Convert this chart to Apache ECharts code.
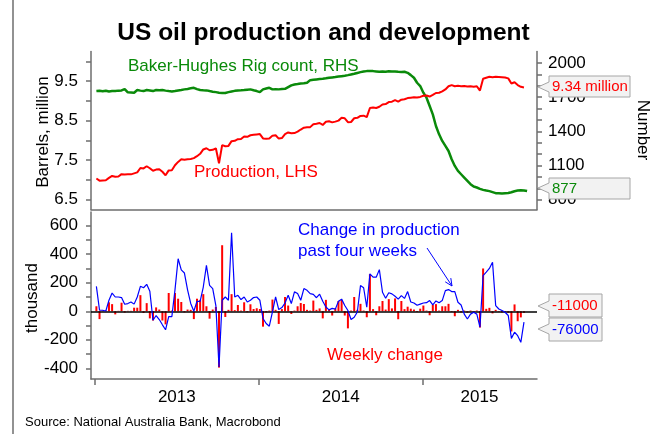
<!DOCTYPE html>
<html><head><meta charset="utf-8">
<script src="https://cdn.jsdelivr.net/npm/echarts@6/dist/echarts.min.js"></script>
<style>html,body{margin:0;padding:0;background:#fff}#c{width:652px;height:434px}</style>
</head><body><div id="c"></div>
<script>
const weeks = ['2013-01-04','2013-01-11','2013-01-18','2013-01-25','2013-02-01','2013-02-08','2013-02-15','2013-02-22','2013-03-01','2013-03-08','2013-03-15','2013-03-22','2013-03-29','2013-04-05','2013-04-12','2013-04-19','2013-04-26','2013-05-03','2013-05-10','2013-05-17','2013-05-24','2013-05-31','2013-06-07','2013-06-14','2013-06-21','2013-06-28','2013-07-05','2013-07-12','2013-07-19','2013-07-26','2013-08-02','2013-08-09','2013-08-16','2013-08-23','2013-08-30','2013-09-06','2013-09-13','2013-09-20','2013-09-27','2013-10-04','2013-10-11','2013-10-18','2013-10-25','2013-11-01','2013-11-08','2013-11-15','2013-11-22','2013-11-29','2013-12-06','2013-12-13','2013-12-20','2013-12-27',
'2014-01-03','2014-01-10','2014-01-17','2014-01-24','2014-01-31','2014-02-07','2014-02-14','2014-02-21','2014-02-28','2014-03-07','2014-03-14','2014-03-21','2014-03-28','2014-04-04','2014-04-11','2014-04-18','2014-04-25','2014-05-02','2014-05-09','2014-05-16','2014-05-23','2014-05-30','2014-06-06','2014-06-13','2014-06-20','2014-06-27','2014-07-04','2014-07-11','2014-07-18','2014-07-25','2014-08-01','2014-08-08','2014-08-15','2014-08-22','2014-08-29','2014-09-05','2014-09-12','2014-09-19','2014-09-26','2014-10-03','2014-10-10','2014-10-17','2014-10-24','2014-10-31','2014-11-07','2014-11-14','2014-11-21','2014-11-28','2014-12-05','2014-12-12','2014-12-19','2014-12-26',
'2015-01-02','2015-01-09','2015-01-16','2015-01-23','2015-01-30','2015-02-06','2015-02-13','2015-02-20','2015-02-27','2015-03-06','2015-03-13','2015-03-20','2015-03-27','2015-04-03','2015-04-10','2015-04-17','2015-04-24','2015-05-01','2015-05-08','2015-05-15','2015-05-22','2015-05-29','2015-06-05','2015-06-12','2015-06-19','2015-06-26','2015-07-03','2015-07-10','2015-07-17','2015-07-24','2015-07-31','2015-08-07','2015-08-14','2015-08-21'];

// US crude production, million b/d (LHS)
const production = [7.035,6.98,6.985,6.99,7.05,7.10,7.08,7.085,7.145,7.135,7.14,7.14,7.165,7.19,7.30,7.29,7.345,7.295,7.23,7.26,7.27,7.205,7.115,7.24,7.245,7.37,7.455,7.52,7.51,7.52,7.53,7.55,7.60,7.66,7.77,7.80,7.75,7.76,7.80,7.42,7.88,7.85,7.86,7.98,7.99,8.03,8.035,8.10,8.09,8.13,8.14,8.15,8.16,8.05,8.04,8.045,8.12,8.13,8.045,8.06,8.16,8.20,8.18,8.185,8.22,8.275,8.32,8.33,8.335,8.41,8.42,8.44,8.39,8.47,8.485,8.455,8.475,8.50,8.57,8.56,8.46,8.465,8.56,8.57,8.62,8.625,8.59,8.82,8.835,8.82,8.85,8.91,8.92,8.97,8.98,9.02,8.98,9.03,9.04,9.07,9.08,9.09,9.085,9.10,9.13,9.135,9.11,9.15,9.20,9.205,9.24,9.29,9.37,9.40,9.37,9.38,9.37,9.375,9.365,9.37,9.36,9.37,9.26,9.56,9.585,9.61,9.60,9.61,9.605,9.60,9.59,9.57,9.44,9.47,9.40,9.355,9.34];

// Baker-Hughes rig count (RHS)
const rigCount = [1753,1755,1752,1756,1750,1754,1753,1757,1759,1771,1742,1741,1739,1762,1757,1753,1762,1758,1753,1762,1760,1762,1757,1753,1750,1754,1759,1763,1768,1772,1777,1782,1770,1762,1760,1759,1753,1748,1744,1739,1737,1736,1744,1750,1755,1759,1760,1762,1765,1768,1760,1753,1744,1768,1775,1782,1768,1769,1768,1771,1773,1788,1803,1811,1815,1820,1822,1826,1849,1852,1855,1858,1861,1865,1870,1873,1876,1880,1884,1888,1893,1899,1905,1912,1919,1925,1928,1929,1928,1925,1922,1924,1922,1926,1925,1924,1922,1921,1922,1913,1893,1870,1826,1797,1739,1695,1622,1549,1447,1374,1316,1272,1228,1155,1097,1053,1024,995,966,937,916,908,896,887,881,876,867,858,857,855,857,859,866,875,881,884,882,877];

// Weekly change in production, thousand b/d
const weeklyChange = [35,-55,5,5,63,50,-22,3,60,-9,3,3,25,25,113,-12,57,-50,-65,27,12,-65,-92,128,5,128,88,65,-8,12,10,-55,88,80,120,35,-52,12,30,-395,463,-40,10,120,8,44,5,63,-7,49,16,21,16,-108,-7,5,82,10,-89,15,100,40,-19,5,35,58,51,10,5,75,10,20,-50,80,15,-30,20,72,80,-30,-120,5,100,10,52,5,-42,260,15,-28,35,72,12,85,20,90,-56,72,15,32,18,12,-5,18,40,5,-28,44,50,5,35,35,52,-5,-35,10,-8,5,-10,5,-8,5,-114,300,17,24,-15,10,-3,-8,-5,-10,-142,48,-70,-43,-11];

// Change in production over past four weeks, thousand b/d
const fourWeekChange = [175,7,7,2,77,128,100,100,96,49,54,65,50,100,175,165,189,140,-63,-30,-58,-95,-130,-38,-38,150,368,290,268,150,55,0,70,70,170,322,182,159,40,-390,77,100,77,551,100,112,82,100,65,77,96,100,77,-51,-86,-105,-5,100,12,26,58,112,54,136,124,77,159,147,124,118,95,120,70,30,10,20,15,70,85,40,5,-58,-42,-5,180,165,28,262,239,239,292,133,91,130,122,105,85,110,90,138,65,58,42,50,58,60,75,45,72,60,75,145,152,138,138,63,44,-20,-54,-20,-7,-20,-112,250,274,300,344,40,16,5,-7,-30,-190,-147,-171,-218,-76];

const yearTicks = ['2013-01-01','2014-01-01','2015-01-01'];
const yearLabelAt = ['2013-07-02','2014-07-02','2015-05-07'];
const xRange = ['2012-12-23','2015-09-12'];
const lhsLabels = [6.5,7.5,8.5,9.5];
const lhsTicks = [6.5,7,7.5,8,8.5,9,9.5,10];
const rhsLabels = [800,1100,1400,1700,2000];
const rhsTicks = [800,900,1000,1100,1200,1300,1400,1500,1600,1700,1800,1900,2000];
const lowLabels = [-400,-200,0,200,400,600];
const lowTicks = [-400,-300,-200,-100,0,100,200,300,400,500,600];

const ts = (d) => Date.parse(d);
const pair = (arr) => arr.map((v, i) => [ts(weeks[i]), v]);
const FONT = 'Liberation Sans, Arial, Helvetica, sans-serif';
const AX = '#6e6e6e';

const chart = echarts.init(document.getElementById('c'), null, {renderer: 'canvas'});

function tag(x, y1, y2, tipX, tipY, w, text, color) {
  return [
    {type: 'polygon', z: 50, shape: {points: [[x, y1], [x + w, y1], [x + w, y2], [x, y2], [x, tipY + 5], [tipX, tipY], [x, tipY - 5]]},
     style: {fill: '#f2f2f2', stroke: '#a6a6a6', lineWidth: 1}},
    {type: 'text', z: 51, x: x + 3, y: (y1 + y2) / 2, style: {text: text, font: '15px ' + FONT, fill: color, verticalAlign: 'middle', align: 'left'}}
  ];
}

const xBase = {type: 'value', min: ts(xRange[0]), max: ts(xRange[1]), splitLine: {show: false}};
const plain = (v) => String(v);

const option = {
  animation: false,
  textStyle: {fontFamily: FONT},
  grid: [
    {left: 91, top: 51.5, width: 446, height: 158},
    {left: 91, top: 212, width: 446, height: 167}
  ],
  xAxis: [
    Object.assign({}, xBase, {gridIndex: 0,
     axisLine: {show: true, onZero: false, lineStyle: {color: AX, width: 1.5}}, axisTick: {show: false}, axisLabel: {show: false}}),
    Object.assign({}, xBase, {gridIndex: 1,
     axisLine: {show: true, onZero: false, lineStyle: {color: AX, width: 1.5}},
     axisTick: {show: true, length: 6, customValues: yearTicks.map(ts), lineStyle: {color: AX, width: 1.5}},
     axisLabel: {show: true, customValues: yearLabelAt.map(ts), formatter: (v) => String(new Date(v).getUTCFullYear()), fontSize: 17, color: '#000', margin: 10}})
  ],
  yAxis: [
    {type: 'value', gridIndex: 0, min: 6.25, max: 10.25,
     axisLine: {show: true, onZero: false, lineStyle: {color: AX, width: 1.5}},
     axisTick: {show: true, length: 5, customValues: lhsTicks, lineStyle: {color: AX, width: 1.5}},
     axisLabel: {customValues: lhsLabels, formatter: (v) => Number(v).toFixed(1), fontSize: 17, color: '#000', margin: 13},
     splitLine: {show: false}},
    {type: 'value', gridIndex: 0, position: 'right', min: 715, max: 2100,
     axisLine: {show: true, onZero: false, lineStyle: {color: AX, width: 1.5}},
     axisTick: {show: true, length: 5, customValues: rhsTicks, lineStyle: {color: AX, width: 1.5}},
     axisLabel: {customValues: rhsLabels, formatter: plain, fontSize: 17, color: '#000', margin: 11},
     splitLine: {show: false}},
    {type: 'value', gridIndex: 1, min: -475, max: 696,
     axisLine: {show: true, onZero: false, lineStyle: {color: AX, width: 1.5}},
     axisTick: {show: true, length: 5, customValues: lowTicks, lineStyle: {color: AX, width: 1.5}},
     axisLabel: {customValues: lowLabels, formatter: plain, fontSize: 17, color: '#000', margin: 13},
     splitLine: {show: false}}
  ],
  series: [
    {name: 'Baker-Hughes Rig count, RHS', type: 'line', xAxisIndex: 0, yAxisIndex: 1, data: pair(rigCount),
     showSymbol: false, lineStyle: {color: '#0a8a0a', width: 2.5}, z: 3},
    {name: 'Production, LHS', type: 'line', xAxisIndex: 0, yAxisIndex: 0, data: pair(production),
     showSymbol: false, lineStyle: {color: '#ff0000', width: 2}, z: 4},
    {name: 'Weekly change', type: 'bar', xAxisIndex: 1, yAxisIndex: 2, data: pair(weeklyChange),
     barWidth: 2, itemStyle: {color: '#ff0000'}, z: 2,
     markLine: {silent: true, symbol: 'none', label: {show: false}, lineStyle: {color: '#000', width: 1.5, type: 'solid'},
       data: [{yAxis: 0}]}},
    {name: 'Change in production past four weeks', type: 'line', xAxisIndex: 1, yAxisIndex: 2, data: pair(fourWeekChange),
     showSymbol: false, lineStyle: {color: '#0000ff', width: 1.2}, z: 5}
  ],
  graphic: [
    {type: 'line', shape: {x1: 13, y1: 0, x2: 13, y2: 434}, style: {stroke: '#6e6e6e', lineWidth: 1.5}},
    {type: 'text', x: 323.5, y: 33, style: {text: 'US oil production and development', font: 'bold 24.5px ' + FONT, fill: '#000', align: 'center', verticalAlign: 'middle'}},
    {type: 'text', x: 43, y: 132, rotation: Math.PI / 2, style: {text: 'Barrels, million', font: '17px ' + FONT, fill: '#000', align: 'center', verticalAlign: 'middle'}},
    {type: 'text', x: 643, y: 130, rotation: -Math.PI / 2, style: {text: 'Number', font: '17px ' + FONT, fill: '#000', align: 'center', verticalAlign: 'middle'}},
    {type: 'text', x: 32, y: 298, rotation: Math.PI / 2, style: {text: 'thousand', font: '17px ' + FONT, fill: '#000', align: 'center', verticalAlign: 'middle'}},
    {type: 'text', x: 128, y: 66, style: {text: 'Baker-Hughes Rig count, RHS', font: '17px ' + FONT, fill: '#0a8a0a', verticalAlign: 'middle'}},
    {type: 'text', x: 194, y: 172, style: {text: 'Production, LHS', font: '17px ' + FONT, fill: '#ff0000', verticalAlign: 'middle'}},
    {type: 'text', x: 298, y: 230, style: {text: 'Change in production', font: '17px ' + FONT, fill: '#0000ff', verticalAlign: 'middle'}},
    {type: 'text', x: 298, y: 251, style: {text: 'past four weeks', font: '17px ' + FONT, fill: '#0000ff', verticalAlign: 'middle'}},
    {type: 'text', x: 327, y: 355, style: {text: 'Weekly change', font: '17px ' + FONT, fill: '#ff0000', verticalAlign: 'middle'}},
    {type: 'line', shape: {x1: 427, y1: 248, x2: 452, y2: 286}, style: {stroke: '#0000ff', lineWidth: 1}},
    {type: 'polyline', shape: {points: [[450.8, 278.1], [452, 286], [445.2, 281.8]]}, style: {stroke: '#0000ff', lineWidth: 1, fill: null}},
    {type: 'text', x: 25, y: 422, style: {text: 'Source: National Australia Bank, Macrobond', font: '13px ' + FONT, fill: '#000', verticalAlign: 'middle'}}
  ]
    .concat(tag(549, 76, 97, 538, 87, 81, '9.34 million', '#ff0000'))
    .concat(tag(549, 178, 199, 538, 188, 81, '877', '#0a8a0a'))
    .concat(tag(549, 294, 317, 538, 306, 53, '-11000', '#ff0000'))
    .concat(tag(549, 318, 341, 538, 329, 53, '-76000', '#0000ff'))
};
chart.setOption(option);
</script>
</body></html>
